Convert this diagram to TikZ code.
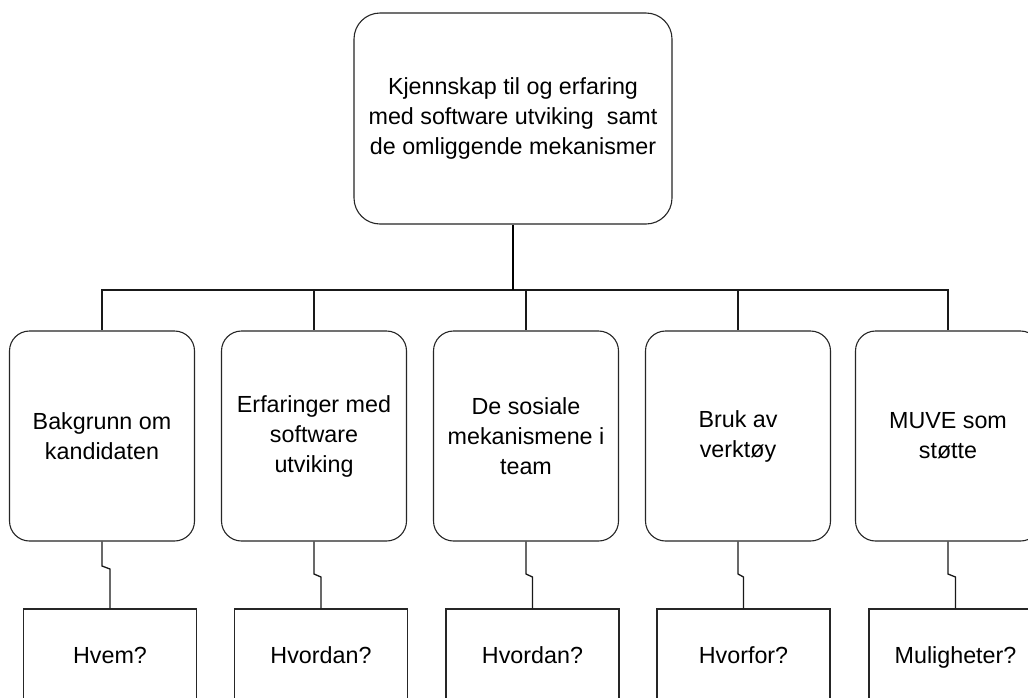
\documentclass[tikz,border=0pt]{standalone}
\usepackage{fontspec}
\setmainfont{Liberation Sans}
\usetikzlibrary{calc}

\tikzset{
  base/.style={draw=black!85, line width=1.1pt, align=center, inner sep=0pt,
    font=\fontsize{23.3}{30}\selectfont},
  topbox/.style={base, rounded corners=26pt, minimum width=318pt, minimum height=211pt},
  midbox/.style={base, rounded corners=20pt, minimum width=185pt, minimum height=210pt},
  leafbox/.style={base, minimum width=173pt, minimum height=93pt,
    text height=16.7pt, text depth=0pt},
  link/.style={line width=1.3pt, draw=black!90},
  trunk/.style={line width=2pt, draw=black}
}

\begin{document}
\begin{tikzpicture}[x=1pt, y=-1pt]
  \useasboundingbox[fill=white] (0,0) rectangle (1028,697);

  % root
  \node[topbox] (top) at (513,118.5)
    {Kjennskap til og erfaring\\med software utviking\ \ samt\\de omliggende mekanismer};

  % second level
  \node[midbox] (m1) at (102,436) {Bakgrunn om\\kandidaten};
  \node[midbox] (m2) at (314,436) {Erfaringer med\\software\\utviking};
  \node[midbox] (m3) at (526,436) {De sosiale\\mekanismene i\\team};
  \node[midbox] (m4) at (738,436) {Bruk av\\verktøy};
  \node[midbox] (m5) at (948,436) {MUVE som\\støtte};

  % leaves
  \node[leafbox] (b1) at (110,655.5) {Hvem?};
  \node[leafbox] (b2) at (321,655.5) {Hvordan?};
  \node[leafbox] (b3) at (532.5,655.5) {Hvordan?};
  \node[leafbox] (b4) at (743.5,655.5) {Hvorfor?};
  \node[leafbox] (b5) at (955.5,655.5) {Muligheter?};

  % bus line between root and second level
  \coordinate (bus) at (0,290);
  \foreach \m in {m1,m2,m3,m4,m5}
    \draw[link] (top.south |- bus) -| (\m.north);
  \draw[trunk] (top.south) -- (top.south |- bus);

  % elbow connectors down to the leaves
  \draw[link] (m1.south) -- (m1.south |- 0,566) -- (b1.north |- 0,569) -- (b1.north);
  \foreach \i in {2,3,4,5}
    \draw[link] (m\i.south) -- (m\i.south |- 0,574) -- (b\i.north |- 0,577) -- (b\i.north);
\end{tikzpicture}
\end{document}
